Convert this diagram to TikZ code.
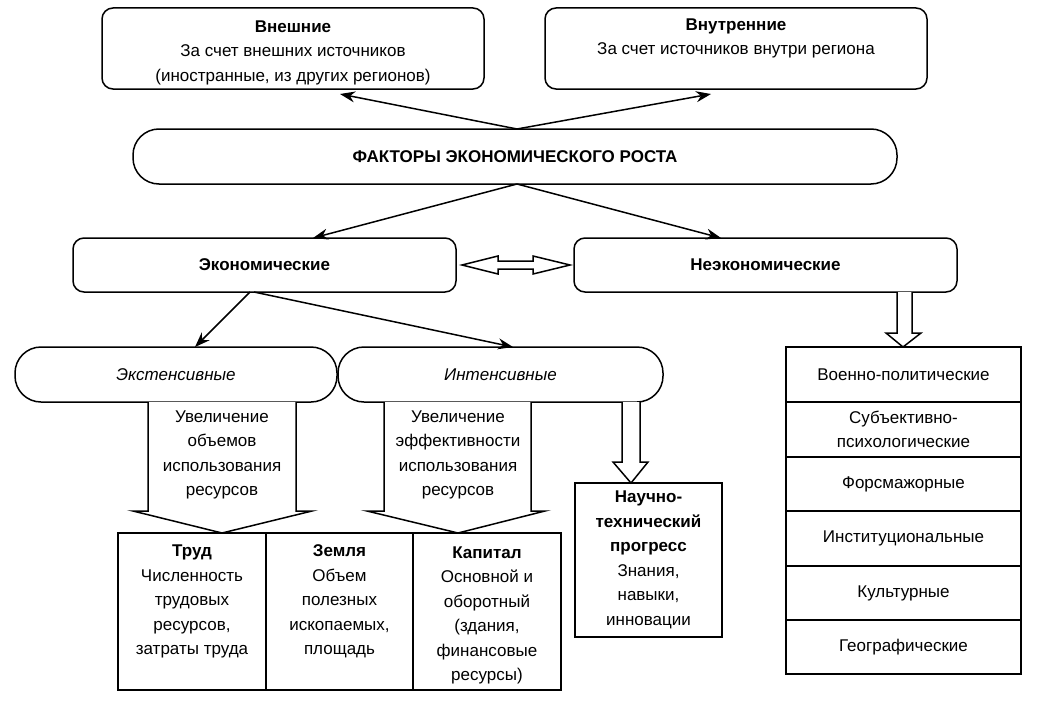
\documentclass[tikz,border=0pt]{standalone}
\usepackage{fontspec}
\setmainfont{Liberation Sans}
\usetikzlibrary{arrows.meta,calc}
\begin{document}
\begin{tikzpicture}[x=1pt,y=-1pt,
  every node/.style={font=\fontsize{17}{24.5}\selectfont, align=center, inner sep=0pt, outer sep=0pt},
  rbox/.style={draw, line width=1.5pt, rounded corners=11pt},
  pill/.style={draw, line width=1.5pt, rounded corners=26pt},
  cell/.style={draw, line width=1.5pt},
  conn/.style={line width=1.5pt, -{Stealth[length=15pt,width=11pt]}},
  blk/.style={draw, line width=1.5pt, fill=white, line join=miter}
]
\useasboundingbox (0,0) rectangle (1048,709);
% top boxes
\node[rbox, minimum width=382pt, minimum height=81pt] (ext) at (293,48.5)
  {\rule{0pt}{20pt}\textbf{Внешние}\\За счет внешних источников\\(иностранные, из других регионов)};
\node[rbox, minimum width=382pt, minimum height=81pt] (int) at (736,48.5)
  {\rule{0pt}{20pt}\textbf{Внутренние}\\За счет источников внутри региона\\\strut};
% main
\node[pill, minimum width=764pt, minimum height=55pt] (main) at (515,156.5)
  {\textbf{ФАКТОРЫ ЭКОНОМИЧЕСКОГО РОСТА}};
% level 2
\node[rbox, minimum width=383pt, minimum height=54pt] (econ) at (264.5,265) {\textbf{Экономические}};
\node[rbox, minimum width=383pt, minimum height=54pt] (nonecon) at (765.5,265) {\textbf{Неэкономические}};
% level 3
\node[pill, minimum width=322pt, minimum height=55pt] (extens) at (176,374.5) {\textit{Экстенсивные}};
\node[pill, minimum width=325pt, minimum height=55pt] (intens) at (500.5,374.5) {\textit{Интенсивные}};
% coordinates for connector ends
\coordinate (mT) at ($(main.north)+(2,0)$);
\coordinate (mB) at ($(main.south)+(2,0)$);
\coordinate (extT) at (340,94);
\coordinate (intT) at (711,94);
\coordinate (econT) at (313,238);
\coordinate (noneT) at (721,238);
\coordinate (eB1) at (250,292);
\coordinate (eB2) at (254,292);
\coordinate (exT) at (195,347);
\coordinate (inT) at (513,347);
\draw[conn] (mT) -- (extT);
\draw[conn] (mT) -- (intT);
\draw[conn] (mB) -- (econT);
\draw[conn] (mB) -- (noneT);
\draw[conn] (eB1) -- (exT);
\draw[conn] (eB2) -- (inT);
% double block arrow
\draw[blk] (462,265) -- (498,256) -- (498,261) -- (533,261) -- (533,256) -- (570,265)
  -- (533,274) -- (533,269) -- (498,269) -- (498,274) -- cycle;
% bottom table
\node[cell, minimum width=148pt, minimum height=157pt] (trud) at (192,611.5)
  {\rule{0pt}{20pt}\textbf{Труд}\\Численность\\трудовых\\ресурсов,\\затраты труда\\\strut};
\node[cell, minimum width=147pt, minimum height=157pt] (zemlya) at (339.5,611.5)
  {\rule{0pt}{20pt}\textbf{Земля}\\Объем\\полезных\\ископаемых,\\площадь\\\strut};
\node[cell, minimum width=148pt, minimum height=157pt] (kapital) at (487,611.5)
  {\rule{0pt}{20pt}\textbf{Капитал}\\Основной и\\оборотный\\(здания,\\финансовые\\ресурсы)};
% NTP
\node[cell, minimum width=147pt, minimum height=154pt] (ntp) at (648.5,560)
  {\textbf{Научно-}\\\textbf{технический}\\\textbf{прогресс}\\Знания,\\навыки,\\инновации};
% right table
\node[cell, minimum width=235pt, minimum height=55pt] (r1) at (903.5,374.5) {Военно-политические};
\node[cell, minimum width=235pt, minimum height=55pt] (r2) at (903.5,429.5) {Субъективно-\\психологические};
\node[cell, minimum width=235pt, minimum height=54pt] (r3) at (903.5,484) {Форсмажорные};
\node[cell, minimum width=235pt, minimum height=55pt] (r4) at (903.5,538.5) {Институциональные};
\node[cell, minimum width=235pt, minimum height=54pt] (r5) at (903.5,593) {Культурные};
\node[cell, minimum width=235pt, minimum height=54pt] (r6) at (903.5,647) {Географические};
% block arrows
\draw[blk] (148,402) -- (148,511) -- (133,511) -- (222,533) -- (312,511) -- (296,511) -- (296,402);
\node (t1) at (222,455) {Увеличение\\объемов\\использования\\ресурсов};
\draw[blk] (384,402) -- (384,511) -- (367,511) -- (458,533) -- (545,511) -- (531,511) -- (531,402);
\node (t2) at (458,455) {Увеличение\\эффективности\\использования\\ресурсов};
\draw[blk] (622,402) -- (622,462) -- (613,462) -- (631,483) -- (648,462) -- (640,462) -- (640,402);
\draw[blk] (897,292) -- (897,333) -- (886,333) -- (903,347) -- (921,333) -- (912,333) -- (912,292);
\end{tikzpicture}
\end{document}
